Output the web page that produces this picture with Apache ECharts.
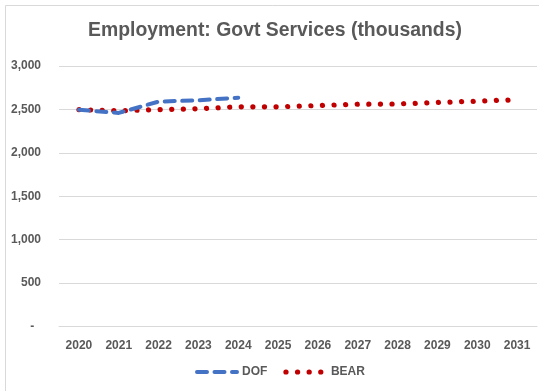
<!DOCTYPE html>
<html>
<head>
<meta charset="utf-8">
<script src="https://cdn.jsdelivr.net/npm/echarts@6/dist/echarts.min.js"></script>
<style>
  html, body { margin: 0; padding: 0; background: #ffffff; }
  #chart { width: 539px; height: 391px; }
</style>
</head>
<body>
<div id="chart"></div>
<script>
// Government services employment, thousands of jobs
const years = ['2020', '2021', '2022', '2023', '2024', '2025', '2026', '2027', '2028', '2029', '2030', '2031'];
const dofValues = [2495, 2460, 2590, 2605, 2635];
const bearValues = [2497, 2485, 2497, 2508, 2530, 2530, 2545, 2560, 2563, 2580, 2595, 2612];
const yTicks = [0, 500, 1000, 1500, 2000, 2500, 3000];

const textColor = '#595959';
const gridColor = '#d9d9d9';
const fontFamily = '"Liberation Sans", Arial, sans-serif';

const dofLine = { color: '#4472C4', width: 4, type: [10, 7.5], cap: 'round', join: 'round' };
const bearLine = { color: '#C00000', width: 5.2, type: [0.1, 11.5], cap: 'round', join: 'round' };

const chart = echarts.init(document.getElementById('chart'), null, { renderer: 'canvas' });

chart.setOption({
  animation: false,
  backgroundColor: '#ffffff',
  graphic: [{
    type: 'rect',
    shape: { x: 5.5, y: 5.5, width: 560, height: 420 },
    style: { fill: 'none', stroke: gridColor, lineWidth: 1 },
    silent: true,
    z: -10
  }],
  title: {
    text: 'Employment: Govt Services (thousands)',
    left: 83,
    top: 16,
    textStyle: { color: textColor, fontSize: 19.4, fontWeight: 'bold', fontFamily: fontFamily }
  },
  legend: {
    bottom: 8,
    left: 190,
    itemWidth: 40,
    itemHeight: 10,
    itemGap: 16,
    textStyle: { color: textColor, fontSize: 12, fontWeight: 'bold', fontFamily: fontFamily },
    data: [
      { name: 'DOF', itemStyle: { opacity: 0 }, lineStyle: { width: dofLine.width, type: dofLine.type, cap: 'round' } },
      { name: 'BEAR', itemStyle: { opacity: 0 }, lineStyle: { width: bearLine.width, type: bearLine.type, cap: 'round' } }
    ]
  },
  grid: { left: 59, right: 2, top: 66, bottom: 64.5, containLabel: false },
  xAxis: {
    type: 'category',
    data: years,
    boundaryGap: true,
    axisLine: { show: true, lineStyle: { color: gridColor, width: 1 } },
    axisTick: { show: false },
    axisLabel: { color: textColor, fontSize: 12, fontWeight: 'bold', fontFamily: fontFamily, margin: 13 }
  },
  yAxis: {
    type: 'value',
    min: yTicks[0],
    max: yTicks[yTicks.length - 1],
    interval: yTicks[1] - yTicks[0],
    axisLine: { show: false },
    axisTick: { show: false },
    splitLine: { lineStyle: { color: gridColor, width: 1 } },
    axisLabel: {
      color: textColor, fontSize: 12, fontWeight: 'bold', fontFamily: fontFamily, margin: 18,
      formatter: v => v === 0 ? '-  ' : v.toLocaleString('en-US')
    }
  },
  series: [
    {
      name: 'DOF',
      type: 'line',
      data: dofValues,
      symbol: 'none',
      z: 3,
      color: dofLine.color,
      lineStyle: dofLine
    },
    {
      name: 'BEAR',
      type: 'line',
      data: bearValues,
      symbol: 'none',
      z: 2,
      color: bearLine.color,
      lineStyle: bearLine
    }
  ]
});
</script>
</body>
</html>
